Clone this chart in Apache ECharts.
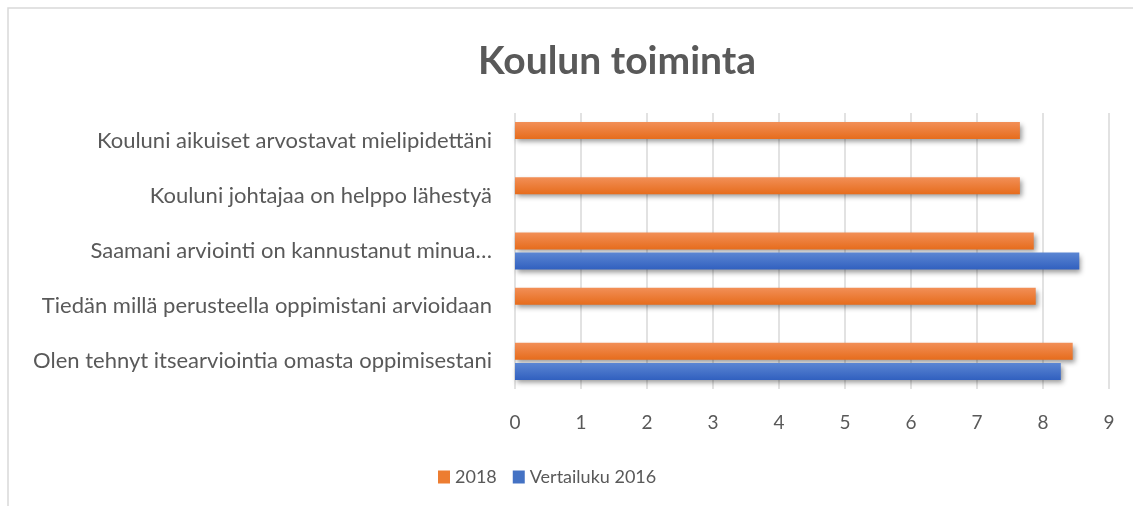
<!DOCTYPE html>
<html lang="fi">
<head>
    <meta charset="UTF-8">
    <title>Koulun toiminta</title>
    <style>
        html,body{margin:0;padding:0;background:#fff;}
        #barChart{width:1133px;height:506px;}
    </style>
</head>
<body>
<div id="barChart"></div>
<script src="https://cdn.jsdelivr.net/npm/echarts@6/dist/echarts.min.js"></script>
<script>
    // alhaalta ylös, kuten kuvassa
    let categories = [
        'Olen tehnyt itsearviointia omasta oppimisestani',
        'Tiedän millä perusteella oppimistani arvioidaan',
        'Saamani arviointi on kannustanut minua…',
        'Kouluni johtajaa on helppo lähestyä',
        'Kouluni aikuiset arvostavat mielipidettäni'
    ];
    let values2018 = [8.45, 7.89, 7.86, 7.65, 7.65];
    let values2016 = [8.27, null, 8.55, null, null];
    let xTicks = [0, 9, 1];

    let fontName = 'Lato';
    let grey = '#595959';

    function grad(top, bottom){
        return new echarts.graphic.LinearGradient(0, 0, 0, 1, [
            {offset: 0, color: top},
            {offset: 1, color: bottom}
        ]);
    }

    let myChart = echarts.init(document.getElementById('barChart'));
    let option = {
        animation: false,
        textStyle: {fontFamily: fontName},
        title: {
            text: 'Koulun toiminta',
            left: 612,
            top: 37,
            textAlign: 'center',
            textStyle: {fontSize: 39, fontWeight: 'bold', color: grey, fontFamily: fontName}
        },
        graphic: [{
            type: 'rect',
            shape: {x: 8, y: 8, width: 1300, height: 700},
            style: {fill: 'none', stroke: '#d9d9d9', lineWidth: 1.5},
            silent: true
        }],
        legend: {
            left: 433,
            top: 463,
            itemWidth: 12,
            itemHeight: 13,
            itemGap: 16,
            icon: 'rect',
            textStyle: {fontSize: 18, color: grey, fontFamily: fontName},
            data: [
                {name: '2018', itemStyle: {color: '#ed7d31'}},
                {name: 'Vertailuku 2016', itemStyle: {color: '#4472c4'}}
            ]
        },
        grid: {left: 515, right: 24, top: 113, bottom: 117, containLabel: false},
        xAxis: {
            type: 'value',
            min: xTicks[0],
            max: xTicks[1],
            interval: xTicks[2],
            axisLine: {show: false},
            axisTick: {show: false},
            axisLabel: {color: grey, fontSize: 19, margin: 24, fontFamily: fontName},
            splitLine: {show: true, lineStyle: {color: '#d9d9d9', width: 1.5}}
        },
        yAxis: {
            type: 'category',
            data: categories,
            axisLine: {show: false},
            axisTick: {show: false},
            axisLabel: {color: grey, fontSize: 22, margin: 23, fontFamily: fontName}
        },
        series: [{
            name: '2018',
            type: 'bar',
            data: values2018,
            barWidth: 17,
            barGap: '18%',
            itemStyle: {
                color: grad('#f28f57', '#e66c1c'),
                shadowBlur: 5,
                shadowColor: 'rgba(0,0,0,0.4)',
                shadowOffsetX: 2,
                shadowOffsetY: 3
            }
        }, {
            name: 'Vertailuku 2016',
            type: 'bar',
            data: values2016,
            barWidth: 17,
            itemStyle: {
                color: grad('#5b86d3', '#3160bf'),
                shadowBlur: 5,
                shadowColor: 'rgba(0,0,0,0.4)',
                shadowOffsetX: 2,
                shadowOffsetY: 3
            }
        }]
    };
    myChart.setOption(option);
</script>
</body>
</html>
